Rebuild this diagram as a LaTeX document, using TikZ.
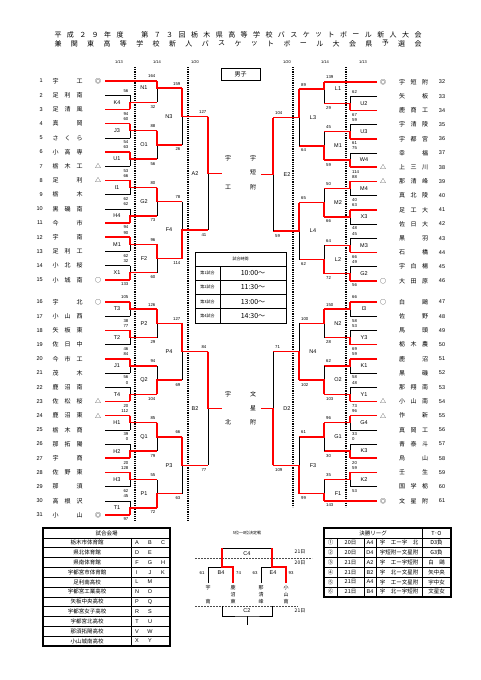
\documentclass[tikz,border=0pt]{standalone}
\usepackage{fontspec}
\setmainfont{Noto Sans CJK JP}
\newfontfamily\latn{Liberation Sans}
\usetikzlibrary{calc}

\newcommand{\fsz}[1]{\fontsize{#1}{#1}\selectfont}

\tikzset{
  win/.style={draw=red, line width=1.5pt},
  lose/.style={draw=black, line width=0.5pt},
  dotline/.style={line width=1.1pt, dash pattern=on 1.1pt off 1.1pt},
  dashline/.style={draw=black!70, line width=0.4pt, dash pattern=on 2pt off 1pt},
  score/.style={font=\latn\fsz{4.3}, inner sep=0pt},
  mlabel/.style={font=\latn\fsz{5.5}, inner sep=0pt},
  tnum/.style={font=\latn\fsz{5.5}, inner sep=0pt},
  tname/.style={font=\fsz{6}, inner sep=0pt},
  tmark/.style={font=\fsz{6}, inner sep=0pt},
  tiny/.style={font=\fsz{4}, inner sep=0pt},
  cell/.style={font=\fsz{5.5}, inner sep=0pt},
}

% side: prefix, score anchor, score dx, label dx, base y
\newcommand{\side}[5]{\def\sd{#1}\def\sanc{#2}\def\sdx{#3}\def\ldx{#4}\def\yb{#5}}
\def\rs{7.1}

% match: label, x, row top, row bottom, row out, winner (t/b), score top, score bottom, x next
\newcommand{\mt}[9]{%
  \pgfmathsetmacro\mtya{\yb+\rs*#3}
  \pgfmathsetmacro\mtyz{\yb+\rs*#4}
  \pgfmathsetmacro\mtyo{\yb+\rs*#5}
  \coordinate (\sd#1t) at (#2,\mtya);
  \coordinate (\sd#1b) at (#2,\mtyz);
  \coordinate (\sd#1) at (#2,\mtyo);
  \coordinate (\sd#1n) at (#9,\mtyo);
  \draw[lose] (\sd#1t) -- (\sd#1b);
  \draw[win] (\sd#1#6) -- (\sd#1) -- (\sd#1n);
  \node[score, anchor=\sanc] (\sd#1s) at ($(\sd#1t)+(\sdx,-4.5)$) {#7};
  \node[score, anchor=\sanc] (\sd#1z) at ($(\sd#1b)+(\sdx,4.5)$) {#8};
  \node[mlabel] (\sd#1l) at ($(\sd#1)+(\ldx,0)$) {#1};
}

% left team: number, 3 chars, mark, row, x end, style
\newcommand{\tmL}[8]{%
  \pgfmathsetmacro\mtyt{\yb+\rs*#6}
  \node[tnum, anchor=east] (num#1) at (43,\mtyt) {#1};
  \node[tname] (nm#1) at (67.5,\mtyt) {\makebox[30pt]{#2\hfill#3\hfill#4}};
  \node[tmark] (mk#1) at (98,\mtyt) {#5};
  \coordinate (T#1) at (105,\mtyt);
  \coordinate (T#1e) at (#7,\mtyt);
  \draw[#8] (T#1) -- (T#1e);
}
% right team
\newcommand{\tmR}[8]{%
  \pgfmathsetmacro\mtyt{\yb+\rs*#6}
  \node[tnum] (num#1) at (442,\mtyt) {#1};
  \node[tname] (nm#1) at (413.5,\mtyt) {\makebox[29pt]{#2\hfill#3\hfill#4}};
  \node[tmark] (mk#1) at (383,\mtyt) {#5};
  \coordinate (T#1) at (377,\mtyt);
  \coordinate (T#1e) at (#7,\mtyt);
  \draw[#8] (T#1) -- (T#1e);
}

\begin{document}
\begin{tikzpicture}[x=1pt,y=-1pt]
\useasboundingbox (0,0) rectangle (481,680);
\fill[white] (0,0) rectangle (481,680);

% title
\foreach \c [count=\i] in {平,成,２,９,年,度,{},第,７,３,回,栃,木,県,高,等,学,校,バ,ス,ケ,ッ,ト,ボ,ー,ル,新,人,大,会}
  \node[tname, font=\fsz{7}] (ta\i) at ({58+360/29*(\i-1)},35) {\c};
\foreach \c [count=\i] in {兼,関,東,高,等,学,校,新,人,バ,ス,ケ,ッ,ト,ボ,ー,ル,大,会,県,予,選,会}
  \node[tname, font=\fsz{7}] (tb\i) at ({58+360/22*(\i-1)},43.5) {\c};

% dates and dotted day lines
\foreach \d/\x [count=\i] in {{1/13}/119,{1/14}/157,{1/20}/195,{1/20}/287,{1/14}/325,{1/13}/363}
  \node[tiny, font=\latn\fsz{4}] (day\i) at (\x,62) {\d};
\draw[dotline] (135,67) -- (135,522);
\draw[dotline] (188,67) -- (188,522);
\draw[dotline] (293,67) -- (293,507);
\draw[dotline] (346,67) -- (346,507);

\node[draw, line width=0.6pt, minimum width=39pt, minimum height=12pt, inner sep=0pt, font=\fsz{6}] (boys) at (240.5,74) {男子};

%% left top
\side{L}{east}{-1.5}{-13}{81}
\tmL{1}{宇}{}{工}{◎}{0}{157}{win}
\tmL{2}{足}{利}{南}{}{2}{130}{lose}
\tmL{3}{足}{清}{風}{}{4}{130}{win}
\tmL{4}{真}{}{岡}{}{6}{130}{win}
\tmL{5}{さ}{く}{ら}{}{8}{130}{lose}
\tmL{6}{小}{高}{専}{}{10}{130}{win}
\tmL{7}{栃}{木}{工}{△}{12}{130}{lose}
\tmL{8}{足}{}{利}{△}{14}{130}{win}
\tmL{9}{栃}{}{木}{}{16}{130}{lose}
\tmL{10}{黒}{磯}{南}{}{18}{130}{lose}
\tmL{11}{今}{}{市}{}{20}{130}{win}
\tmL{12}{宇}{}{南}{}{22}{130}{win}
\tmL{13}{足}{利}{工}{}{24}{130}{lose}
\tmL{14}{小}{北}{桜}{}{26}{130}{lose}
\tmL{15}{小}{城}{南}{○}{28}{130}{win}
\mt{K4}{130}{2}{4}{3}{b}{56}{94}{157}
\mt{J3}{130}{6}{8}{7}{t}{60}{54}{157}
\mt{U1}{130}{10}{12}{11}{t}{63}{53}{157}
\mt{I1}{130}{14}{16}{15}{t}{66}{62}{157}
\mt{H4}{130}{18}{20}{19}{b}{62}{94}{157}
\mt{M1}{130}{22}{24}{23}{t}{90}{62}{157}
\mt{X1}{130}{26}{28}{27}{b}{32}{133}{157}
\mt{N1}{157}{0}{3}{1}{t}{164}{32}{182}
\mt{O1}{157}{7}{11}{9}{t}{88}{56}{182}
\mt{G2}{157}{15}{19}{17}{t}{80}{73}{182}
\mt{F2}{157}{23}{27}{25}{t}{96}{60}{182}
\mt{N3}{182}{1}{9}{5}{t}{159}{26}{208}
\mt{F4}{182}{17}{25}{21}{b}{78}{114}{208}
\mt{A2}{208}{5}{21}{13}{t}{127}{41}{222}

%% left bottom
\side{L}{east}{-1.5}{-13}{302}
\tmL{16}{宇}{}{北}{○}{0}{130}{win}
\tmL{17}{小}{山}{西}{}{2}{130}{lose}
\tmL{18}{矢}{板}{東}{}{4}{130}{win}
\tmL{19}{佐}{日}{中}{}{6}{130}{lose}
\tmL{20}{今}{市}{工}{}{8}{130}{win}
\tmL{21}{茂}{}{木}{}{10}{130}{lose}
\tmL{22}{鹿}{沼}{南}{}{12}{130}{lose}
\tmL{23}{佐}{松}{桜}{△}{14}{130}{win}
\tmL{24}{鹿}{沼}{東}{△}{16}{130}{win}
\tmL{25}{栃}{木}{商}{}{18}{130}{lose}
\tmL{26}{那}{拓}{陽}{}{20}{130}{lose}
\tmL{27}{宇}{}{商}{}{22}{130}{win}
\tmL{28}{佐}{野}{東}{}{24}{130}{win}
\tmL{29}{那}{}{須}{}{26}{130}{lose}
\tmL{30}{高}{根}{沢}{}{28}{130}{lose}
\tmL{31}{小}{}{山}{◎}{30}{130}{win}
\mt{T3}{130}{0}{2}{1}{t}{105}{38}{157}
\mt{T2}{130}{4}{6}{5}{t}{77}{46}{157}
\mt{J1}{130}{8}{10}{9}{t}{84}{56}{157}
\mt{T4}{130}{12}{14}{13}{b}{0}{20}{157}
\mt{H1}{130}{16}{18}{17}{t}{112}{39}{157}
\mt{H2}{130}{20}{22}{21}{b}{0}{20}{157}
\mt{H3}{130}{24}{26}{25}{t}{128}{62}{157}
\mt{T1}{130}{28}{30}{29}{b}{45}{97}{157}
\mt{P2}{157}{1}{5}{3}{t}{126}{29}{182}
\mt{Q2}{157}{9}{13}{11}{b}{94}{104}{182}
\mt{Q1}{157}{17}{21}{19}{t}{85}{79}{182}
\mt{P1}{157}{25}{29}{27}{b}{55}{72}{182}
\mt{P4}{182}{3}{11}{7}{t}{127}{69}{208}
\mt{P3}{182}{19}{27}{23}{t}{66}{63}{208}
\mt{B2}{208}{7}{23}{15}{t}{84}{77}{222}

%% right top
\side{R}{west}{2}{14}{82}
\tmR{32}{宇}{短}{附}{◎}{0}{324}{win}
\tmR{33}{矢}{}{板}{}{2}{350}{lose}
\tmR{34}{鹿}{商}{工}{}{4}{350}{win}
\tmR{35}{宇}{清}{陵}{}{6}{350}{lose}
\tmR{36}{宇}{都}{宮}{}{8}{350}{win}
\tmR{37}{幸}{}{福}{}{10}{350}{lose}
\tmR{38}{上}{三}{川}{△}{12}{350}{win}
\tmR{39}{那}{清}{峰}{△}{14}{350}{win}
\tmR{40}{真}{北}{陵}{}{16}{350}{lose}
\tmR{41}{足}{工}{大}{}{18}{350}{win}
\tmR{42}{佐}{日}{大}{}{20}{350}{lose}
\tmR{43}{黒}{}{羽}{}{22}{350}{lose}
\tmR{44}{石}{}{橋}{}{24}{350}{win}
\tmR{45}{宇}{白}{楊}{}{26}{350}{lose}
\tmR{46}{大}{田}{原}{○}{28}{350}{win}
\mt{U2}{350}{2}{4}{3}{b}{62}{67}{324}
\mt{U3}{350}{6}{8}{7}{b}{59}{61}{324}
\mt{W4}{350}{10}{12}{11}{b}{75}{114}{324}
\mt{M4}{350}{14}{16}{15}{t}{88}{40}{324}
\mt{X3}{350}{18}{20}{19}{t}{63}{48}{324}
\mt{M3}{350}{22}{24}{23}{b}{45}{66}{324}
\mt{G2}{350}{26}{28}{27}{b}{49}{56}{324}
\mt{L1}{324}{0}{3}{1}{t}{139}{29}{299}
\mt{M1}{324}{7}{11}{9}{b}{45}{59}{299}
\mt{M2}{324}{15}{19}{17}{b}{50}{66}{299}
\mt{L2}{324}{23}{27}{25}{b}{64}{72}{299}
\mt{L3}{299}{1}{9}{5}{t}{89}{64}{273}
\mt{L4}{299}{17}{25}{21}{t}{65}{62}{273}
\mt{E2}{273}{5}{21}{13}{t}{104}{59}{261}

%% right bottom
\side{R}{west}{2}{14}{302}
\tmR{47}{白}{}{鷗}{○}{0}{350}{win}
\tmR{48}{佐}{}{野}{}{2}{350}{lose}
\tmR{49}{馬}{}{頭}{}{4}{350}{lose}
\tmR{50}{栃}{木}{農}{}{6}{350}{win}
\tmR{51}{鹿}{}{沼}{}{8}{350}{win}
\tmR{52}{黒}{}{磯}{}{10}{350}{lose}
\tmR{53}{那}{翔}{南}{}{12}{350}{lose}
\tmR{54}{小}{山}{南}{△}{14}{350}{win}
\tmR{55}{作}{}{新}{△}{16}{350}{win}
\tmR{56}{真}{岡}{工}{}{18}{350}{lose}
\tmR{57}{青}{泰}{斗}{}{20}{350}{lose}
\tmR{58}{烏}{}{山}{}{22}{350}{win}
\tmR{59}{壬}{}{生}{}{24}{350}{win}
\tmR{60}{国}{学}{栃}{}{26}{350}{lose}
\tmR{61}{文}{星}{附}{◎}{28}{324}{win}
\mt{I3}{350}{0}{2}{1}{t}{66}{58}{324}
\mt{Y3}{350}{4}{6}{5}{b}{53}{69}{324}
\mt{K1}{350}{8}{10}{9}{t}{59}{58}{324}
\mt{Y1}{350}{12}{14}{13}{b}{48}{73}{324}
\mt{G4}{350}{16}{18}{17}{t}{96}{33}{324}
\mt{K3}{350}{20}{22}{21}{b}{0}{20}{324}
\mt{K2}{350}{24}{26}{25}{t}{59}{53}{324}
\mt{N2}{324}{1}{5}{3}{t}{150}{28}{299}
\mt{O2}{324}{9}{13}{11}{b}{62}{103}{299}
\mt{G1}{324}{17}{21}{19}{t}{96}{30}{299}
\mt{F1}{324}{25}{28}{27}{b}{35}{143}{299}
\mt{N4}{299}{3}{11}{7}{b}{100}{102}{273}
\mt{F3}{299}{19}{27}{23}{b}{61}{99}{273}
\mt{D2}{273}{7}{23}{15}{b}{71}{109}{261}

% finalists
\foreach \c/\y in {宇/158,工/187} \node[tname] at (228,\y) {\c};
\foreach \c/\y in {宇/158,短/172.5,附/187} \node[tname] at (253,\y) {\c};
\foreach \c/\y in {宇/394,北/422} \node[tname] at (228,\y) {\c};
\foreach \c/\y in {文/394,星/408,附/422} \node[tname] at (253,\y) {\c};

% schedule
\draw[lose] (195,252) rectangle (286,323);
\foreach \y in {266,280,294,308} \draw[lose] (195,\y) -- (286,\y);
\draw[lose] (220,266) -- (220,323);
\node[tiny] (sch) at (240.5,259) {試合時間};
\foreach \n/\t [count=\i] in {第1試合/10:00～,第2試合/11:30～,第3試合/13:00～,第4試合/14:30～}{
  \node[tiny] (sg\i) at (207.5,{266+14.25*(\i-0.5)}) {\n};
  \node[cell, font=\fsz{7}] (st\i) at (253,{266+14.25*(\i-0.5)}) {\t};
}

% venue table
\foreach \k in {1,...,11} \draw[lose] (43,{528+9.83*\k}) -- (170,{528+9.83*\k});
\draw[line width=1pt] (131,537.8) -- (131,646);
\draw[line width=1.4pt] (43,528) rectangle (170,646);
\node[cell] (ven) at (106.5,533) {試合会場};
\foreach \v/\a/\b/\c [count=\i] in {栃木市体育館/A/B/C,県北体育館/D/E/{},県南体育館/F/G/H,宇都宮市体育館/I/J/K,足利南高校/L/M/{},宇都宮工業高校/N/O/{},矢板中央高校/P/Q/{},宇都宮女子高校/R/S/{},宇都宮北高校/T/U/{},那須拓陽高校/V/W/{},小山城南高校/X/Y/{}}{
  \node[cell] (v\i) at (87,{528+9.83*\i+4.9}) {\v};
  \node[cell, font=\latn\fsz{5.5}] at (137,{528+9.83*\i+4.9}) {\a};
  \node[cell, font=\latn\fsz{5.5}] at (150,{528+9.83*\i+4.9}) {\b};
  \node[cell, font=\latn\fsz{5.5}] at (163,{528+9.83*\i+4.9}) {\c};
}

% final league table
\foreach \k in {1,...,6} \draw[lose] (324,{528+9.83*\k}) -- (451,{528+9.83*\k});
\foreach \x in {337,364,376} \draw[lose] (\x,537.8) -- (\x,596.8);
\draw[line width=1pt] (422,528) -- (422,596.8);
\draw[line width=1.4pt] (324,528) rectangle (451,596.8);
\node[cell] (fl) at (373,533) {決勝リーグ};
\node[cell] (to) at (436.5,533) {T･O};
\foreach \m/\d/\g/\p/\o [count=\i] in {①/20日/A4/宇　工ー宇　北/D3負,②/20日/D4/宇短附ー文星附/G3負,③/21日/A2/宇　工ー宇短附/白　鷗,④/21日/B2/宇　北ー文星附/矢中央,⑤/21日/A4/宇　工ー文星附/宇中女,⑥/21日/B4/宇　北ー宇短附/文星女}{
  \node[cell] (fm\i) at (330.5,{528+9.83*\i+4.9}) {\m};
  \node[cell] at (350.5,{528+9.83*\i+4.9}) {\d};
  \node[cell, font=\latn\fsz{5.5}] at (370,{528+9.83*\i+4.9}) {\g};
  \node[cell] at (399,{528+9.83*\i+4.9}) {\p};
  \node[cell] at (436.5,{528+9.83*\i+4.9}) {\o};
}

% 5th-8th place
\node[tiny] (ttl) at (247,533) {5位～8位決定戦};
\draw[dashline] (195,558) -- (312,558);
\draw[dashline] (195,606) -- (298,606);
\node[tiny, font=\fsz{5}] at (300,552) {21日};
\node[tiny, font=\fsz{5}] at (300,563) {20日};
\node[tiny, font=\fsz{5}] at (300,611) {21日};
\coordinate (c4l) at (222,548);
\coordinate (c4r) at (272,548);
\coordinate (b4o) at (222,567);
\coordinate (b4l) at (208,567);
\coordinate (b4r) at (233,567);
\coordinate (b4le) at (208,583);
\coordinate (b4re) at (233,583);
\coordinate (e4o) at (272,567);
\coordinate (e4l) at (261,567);
\coordinate (e4r) at (286,567);
\coordinate (e4le) at (261,583);
\coordinate (e4re) at (286,583);
\coordinate (c2l) at (222,606);
\coordinate (c2r) at (272,606);
\coordinate (c2m) at (247,616);
\coordinate (c2e) at (247,625);
\draw[lose] (c4l) -- (c4r);
\draw[lose] (b4le) -- (b4l) -- (b4o);
\draw[lose] (e4le) -- (e4l) -- (e4o);
\draw[win] (c4l) -- (b4o) -- (b4r) -- (b4re);
\draw[win] (c4r) -- (e4o) -- (e4r) -- (e4re);
\draw[lose] (c2l) |- (c2m) -| (c2r);
\draw[lose] (c2m) -- (c2e);
\node[mlabel] (c4) at (247,553.5) {C4};
\node[mlabel] (c2) at (247,611) {C2};
\node[mlabel] (b4) at (221,573) {B4};
\node[mlabel] (e4) at (273,573) {E4};
\node[score] at (202,573) {61};
\node[score] at (238.5,573) {74};
\node[score] at (255,573) {63};
\node[score] at (291,573) {93};
\foreach \x/\a/\b/\c in {208/宇/{}/南,233/鹿/沼/東,261/那/清/峰,286/小/山/南}{
  \node[tiny, font=\fsz{5}] at (\x,588) {\a};
  \node[tiny, font=\fsz{5}] at (\x,595) {\b};
  \node[tiny, font=\fsz{5}] at (\x,602) {\c};
}
\end{tikzpicture}
\end{document}
